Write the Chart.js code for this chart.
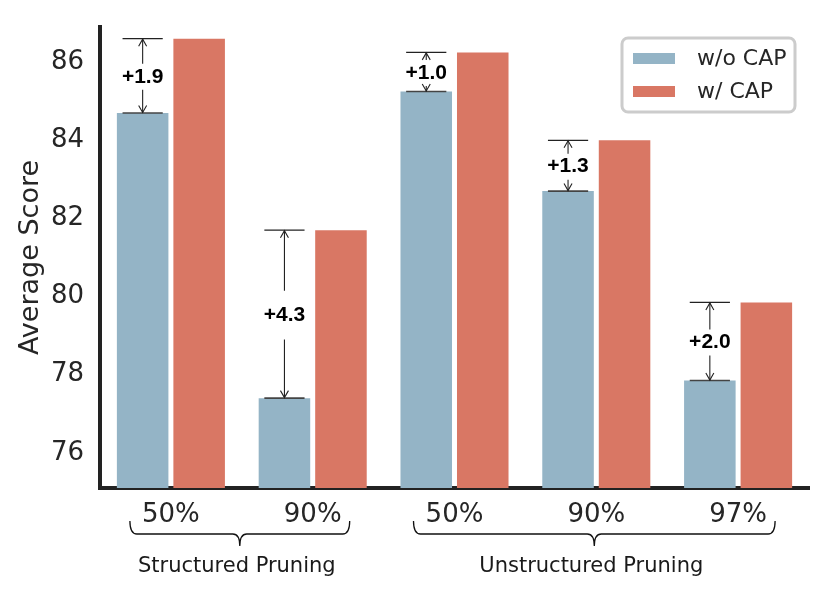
<!DOCTYPE html>
<html>
<head>
<meta charset="utf-8">
<script src="https://cdn.jsdelivr.net/npm/chart.js@4.4.1/dist/chart.umd.min.js"></script>
<style>
  html, body { margin: 0; padding: 0; background: #ffffff; }
  #wrap { width: 833px; height: 595px; }
</style>
</head>
<body>
<div id="wrap"><canvas id="scoreChart" width="833" height="595"></canvas></div>
<script>
// pruning levels on the x axis
var levels = ['50%', '90%', '50%', '90%', '97%'];
// groups under the braces (first and last level index)
var groupLabels = ['Structured Pruning', 'Unstructured Pruning'];
var groupFirst = [0, 2];
var groupLast = [1, 4];
// average scores
var withoutCap = [84.7, 77.4, 85.25, 82.7, 77.85];
var withCap = [86.6, 81.7, 86.25, 84.0, 79.85];
// gain labels over each pair
var gains = ['+1.9', '+4.3', '+1.0', '+1.3', '+2.0'];
// y axis
var yTicks = [76, 78, 80, 82, 84, 86];
var yMin = 75.1;
var yMax = 86.9;

var BLUE = '#94b4c6';
var RED = '#d97764';
var INK = '#262626';

function arrowHead(ctx, x, y, dir) {
	ctx.beginPath();
	ctx.moveTo(x - 4, y - dir * 7);
	ctx.lineTo(x, y);
	ctx.lineTo(x + 4, y - dir * 7);
	ctx.stroke();
}

var gainPlugin = {
	id: 'gainPlugin',
	afterDatasetsDraw: function (chart) {
		var ctx = chart.ctx;
		var m0 = chart.getDatasetMeta(0).data;
		var m1 = chart.getDatasetMeta(1).data;
		ctx.save();
		for (var i = 0; i < gains.length; i++) {
			var x = m0[i].x;
			var half = m0[i].width * 0.39;
			var yTop = m1[i].y;
			var yBot = m0[i].y;
			var mid = (yTop + yBot) / 2 + 1;
			var g = Math.max(13, (yBot - yTop) * 0.145);

			// caps
			ctx.lineWidth = 1.3;
			ctx.strokeStyle = '#222';
			ctx.beginPath();
			ctx.moveTo(x - half, yTop);
			ctx.lineTo(x + half, yTop);
			ctx.stroke();
			ctx.strokeStyle = '#444';
			ctx.lineWidth = 1.6;
			ctx.beginPath();
			ctx.moveTo(x - half, yBot);
			ctx.lineTo(x + half, yBot);
			ctx.stroke();

			// arrow shafts
			ctx.strokeStyle = '#222';
			ctx.lineWidth = 1.1;
			if (mid - g > yTop) {
				ctx.beginPath();
				ctx.moveTo(x, yTop);
				ctx.lineTo(x, mid - g);
				ctx.stroke();
			}
			if (mid + g < yBot) {
				ctx.beginPath();
				ctx.moveTo(x, mid + g);
				ctx.lineTo(x, yBot);
				ctx.stroke();
			}
			arrowHead(ctx, x, yTop + 0.5, -1);
			arrowHead(ctx, x, yBot - 0.5, 1);

			ctx.fillStyle = '#000';
			ctx.font = 'bold 21px "Liberation Sans", Arial, sans-serif';
			ctx.textAlign = 'center';
			ctx.textBaseline = 'middle';
			ctx.fillText(gains[i], x, mid);
		}
		ctx.restore();
	},
	afterDraw: function (chart) {
		var ctx = chart.ctx;
		var xs = chart.scales.x;
		ctx.save();

		// braces and group names
		ctx.strokeStyle = '#111';
		ctx.lineWidth = 1.3;
		for (var k = 0; k < groupLabels.length; k++) {
			var a = xs.getPixelForValue(groupFirst[k]) - 41;
			var b = xs.getPixelForValue(groupLast[k]) + 37;
			var c = (a + b) / 2;
			var y0 = 521, y1 = 534, y2 = 546, r = 7;
			ctx.beginPath();
			ctx.moveTo(a, y0);
			ctx.quadraticCurveTo(a, y1, a + r, y1);
			ctx.lineTo(c - r, y1);
			ctx.quadraticCurveTo(c, y1, c, y2);
			ctx.quadraticCurveTo(c, y1, c + r, y1);
			ctx.lineTo(b - r, y1);
			ctx.quadraticCurveTo(b, y1, b, y0);
			ctx.stroke();

			ctx.fillStyle = '#1a1a1a';
			ctx.font = '21px "DejaVu Sans", sans-serif';
			ctx.textAlign = 'center';
			ctx.textBaseline = 'alphabetic';
			ctx.fillText(groupLabels[k], c - 3, 572);
		}

		// legend
		var lx = 622, ly = 38, lw = 173, lh = 74;
		ctx.fillStyle = 'rgba(255,255,255,0.85)';
		ctx.strokeStyle = '#cccccc';
		ctx.lineWidth = 3;
		ctx.beginPath();
		ctx.roundRect(lx, ly, lw, lh, 6);
		ctx.fill();
		ctx.stroke();
		var ds = chart.data.datasets;
		for (var j = 0; j < ds.length; j++) {
			var cy = 59 + j * 33;
			ctx.fillStyle = ds[j].backgroundColor;
			ctx.fillRect(633, cy - 6, 42, 11);
			ctx.fillStyle = INK;
			ctx.font = '22px "DejaVu Sans", sans-serif';
			ctx.textAlign = 'left';
			ctx.textBaseline = 'middle';
			ctx.fillText(ds[j].label, 697, cy);
		}
		ctx.restore();
	}
};

new Chart(document.getElementById('scoreChart').getContext('2d'), {
	type: 'bar',
	data: {
		labels: levels,
		datasets: [
			{ label: 'w/o CAP', data: withoutCap, backgroundColor: BLUE },
			{ label: 'w/ CAP', data: withCap, backgroundColor: RED }
		]
	},
	options: {
		responsive: false,
		animation: false,
		devicePixelRatio: 1,
		layout: { padding: { top: 27, right: 24, left: 0, bottom: 0 } },
		categoryPercentage: 0.797,
		barPercentage: 0.912,
		plugins: {
			legend: { display: false },
			tooltip: { enabled: false }
		},
		scales: {
			x: {
				grid: { display: false, drawTicks: false },
				border: { display: true, color: '#222', width: 4 },
				ticks: {
					color: INK,
					padding: 12,
					font: { family: '"DejaVu Sans", sans-serif', size: 26 }
				},
				afterFit: function (scale) { scale.height = 107; }
			},
			y: {
				min: yMin,
				max: yMax,
				grid: { display: false, drawTicks: false },
				border: { display: true, color: '#222', width: 4 },
				afterBuildTicks: function (scale) {
					scale.ticks = yTicks.map(function (v) { return { value: v }; });
				},
				ticks: {
					color: INK,
					padding: 16,
					font: { family: '"DejaVu Sans", sans-serif', size: 26, lineHeight: 0.5 }
				},
				title: {
					display: true,
					text: 'Average Score',
					color: INK,
					padding: { top: 15, bottom: 0 },
					font: { family: '"DejaVu Sans", sans-serif', size: 27 }
				},
				afterFit: function (scale) {
					scale.width = 100;
					scale.paddingTop = 0;
					scale.paddingBottom = 0;
				}
			}
		}
	},
	plugins: [gainPlugin]
});
</script>
</body>
</html>
